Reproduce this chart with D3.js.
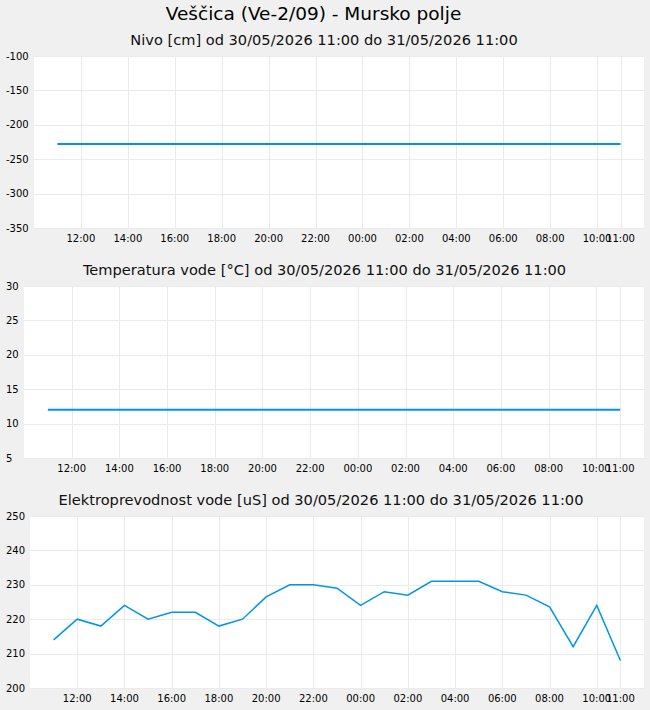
<!DOCTYPE html>
<html>
<head>
<meta charset="utf-8">
<script src="https://cdn.jsdelivr.net/npm/d3@7"></script>
<style>
  html, body { margin: 0; padding: 0; background: #f0f0f0; }
  svg { display: block; font-family: "DejaVu Sans", sans-serif; }
</style>
</head>
<body>
<svg id="chart" width="650" height="710"></svg>
<script>
// ---- data ----
const mainTitle = "Veščica (Ve-2/09) - Mursko polje";
const panelTitles = [
  "Nivo [cm] od 30/05/2026 11:00 do 31/05/2026 11:00",
  "Temperatura vode [°C] od 30/05/2026 11:00 do 31/05/2026 11:00",
  "Elektroprevodnost vode [uS] od 30/05/2026 11:00 do 31/05/2026 11:00"
];
const times = [
  "2026-05-30 11:00","2026-05-30 12:00","2026-05-30 13:00","2026-05-30 14:00",
  "2026-05-30 15:00","2026-05-30 16:00","2026-05-30 17:00","2026-05-30 18:00",
  "2026-05-30 19:00","2026-05-30 20:00","2026-05-30 21:00","2026-05-30 22:00",
  "2026-05-30 23:00","2026-05-31 00:00","2026-05-31 01:00","2026-05-31 02:00",
  "2026-05-31 03:00","2026-05-31 04:00","2026-05-31 05:00","2026-05-31 06:00",
  "2026-05-31 07:00","2026-05-31 08:00","2026-05-31 09:00","2026-05-31 10:00",
  "2026-05-31 11:00"
];
const nivo = [-228,-228,-228,-228,-228,-228,-228,-228,-228,-228,-228,-228,-228,
              -228,-228,-228,-228,-228,-228,-228,-228,-228,-228,-228,-228];
const temperatura = [12,12,12,12,12,12,12,12,12,12,12,12,12,
                     12,12,12,12,12,12,12,12,12,12,12,12];
const prevodnost = [214,220,218,224,220,222,222,218,220,226.5,230,230,229,
                    224,228,227,231,231,231,228,227,223.6,212,224,208];
const xDomainStr = ["2026-05-30 10:00", "2026-05-31 12:00"];
const xTickStr = ["2026-05-30 12:00","2026-05-30 14:00","2026-05-30 16:00","2026-05-30 18:00",
  "2026-05-30 20:00","2026-05-30 22:00","2026-05-31 00:00","2026-05-31 02:00",
  "2026-05-31 04:00","2026-05-31 06:00","2026-05-31 08:00","2026-05-31 10:00","2026-05-31 11:00"];
const yDomains = [[-350,-100],[5,30],[200,250]];
const yTicks = [[-350,-300,-250,-200,-150,-100],[5,10,15,20,25,30],[200,210,220,230,240,250]];

// ---- layout ----
const parse = d3.timeParse("%Y-%m-%d %H:%M");
const fmt = d3.timeFormat("%H:%M");
const dates = times.map(parse);
const xDomain = xDomainStr.map(parse);
const xTicks = xTickStr.map(parse);
const series = [nivo, temperatura, prevodnost];
const panels = [
  {left: 34, right: 644, top: 56, bottom: 228, title: 45, tx: 324, lw: 2},
  {left: 24, right: 644, top: 286, bottom: 458, title: 275, tx: 324.5, lw: 2},
  {left: 30, right: 644, top: 516, bottom: 688, title: 505, tx: 321, lw: 1.5}
];
const lineColor = "#0095eb";
const gridColor = "#ebebeb";

const svg = d3.select("#chart");
svg.append("rect").attr("width", 650).attr("height", 710).attr("fill", "#f0f0f0");

svg.append("text").attr("x", 313.5).attr("y", 20).attr("text-anchor", "middle")
  .attr("font-size", 18.5).attr("fill", "#000").text(mainTitle);

panels.forEach((p, i) => {
  const x = d3.scaleTime().domain(xDomain).range([p.left, p.right]);
  const y = d3.scaleLinear().domain(yDomains[i]).range([p.bottom, p.top]);
  const g = svg.append("g");

  g.append("text").attr("x", p.tx).attr("y", p.title).attr("text-anchor", "middle")
    .attr("font-size", 14.6).attr("fill", "#111").text(panelTitles[i]);

  g.append("rect").attr("x", p.left).attr("y", p.top)
    .attr("width", p.right - p.left).attr("height", p.bottom - p.top).attr("fill", "#fff");

  // horizontal grid
  g.append("g").selectAll("line").data(yTicks[i]).join("line")
    .attr("x1", p.left).attr("x2", p.right)
    .attr("y1", d => Math.round(y(d)) + 0.5).attr("y2", d => Math.round(y(d)) + 0.5)
    .attr("stroke", gridColor).attr("stroke-width", 1);
  // vertical grid
  g.append("g").selectAll("line").data(xTicks).join("line")
    .attr("x1", d => Math.round(x(d)) + 0.5).attr("x2", d => Math.round(x(d)) + 0.5)
    .attr("y1", p.top).attr("y2", p.bottom)
    .attr("stroke", gridColor).attr("stroke-width", 1);

  // y labels
  g.append("g").selectAll("text").data(yTicks[i]).join("text")
    .attr("x", 6).attr("y", d => y(d)).attr("dy", "0.35em")
    .attr("font-size", 10).attr("fill", "#000").text(d => d);

  // x labels
  g.append("g").selectAll("text").data(xTicks).join("text")
    .attr("x", d => x(d)).attr("y", p.bottom + 10).attr("dy", "0.35em")
    .attr("text-anchor", "middle").attr("font-size", 10).attr("fill", "#000")
    .text(d => fmt(d));

  const line = d3.line().x((d, j) => x(dates[j])).y(d => y(d));
  g.append("path").datum(series[i]).attr("d", line)
    .attr("fill", "none").attr("stroke", lineColor).attr("stroke-width", p.lw);
});
</script>
</body>
</html>
